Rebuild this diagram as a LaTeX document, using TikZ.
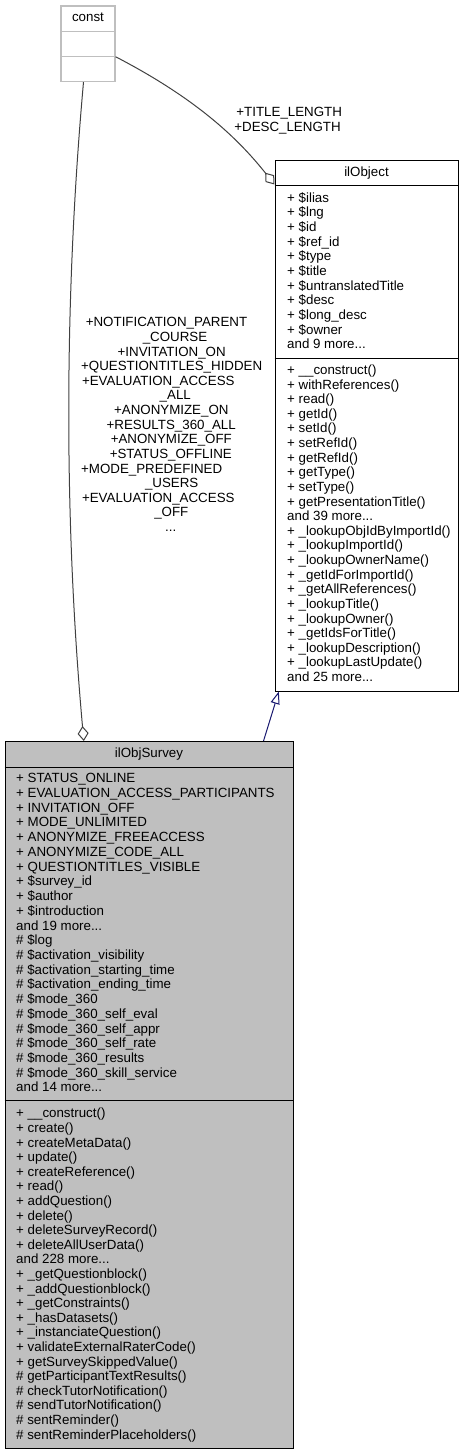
\documentclass[tikz,border=0pt]{standalone}
\usepackage{fontspec}
\setmainfont{Liberation Sans}
\usetikzlibrary{arrows.meta,calc}
\definecolor{edgegray}{HTML}{404040}
\definecolor{navyedge}{HTML}{191970}
\definecolor{boxfill}{HTML}{BFBFBF}
\definecolor{lightborder}{HTML}{BFBFBF}
\newcommand\mytdots{...}
\begin{document}
\begin{tikzpicture}[x=1pt,y=-1pt,
  txt/.style={font=\fontsize{13.33}{14.66}\selectfont, inner sep=0pt, anchor=base west},
  ctxt/.style={font=\fontsize{13.33}{14.66}\selectfont, inner sep=0pt, anchor=base},
  classbox/.style={draw=black, line width=1pt, rectangle, inner sep=0pt},
  sepline/.style={draw=black, line width=1pt},
  agg/.style={draw=edgegray, line width=1pt, -{Diamond[open,length=15pt,width=11pt]}},
  inh/.style={draw=navyedge, line width=1pt, -{Triangle[open,length=12.5pt,width=9pt]}}
]
\useasboundingbox (0,0) rectangle (463,1455);

% ---------- const ----------
\node[draw=lightborder, line width=1.2pt, fill=white, rectangle, inner sep=0pt,
      minimum width=54pt, minimum height=75.5pt] (const) at (88,43.75) {};
\draw[draw=lightborder, line width=1.2pt] (const.west |- 0,31.5) -- (const.east |- 0,31.5);
\draw[draw=lightborder, line width=1.2pt] (const.west |- 0,56.7) -- (const.east |- 0,56.7);
\node[ctxt] (constT) at (88,22) {const};

% ---------- ilObject ----------
\node[classbox, fill=white, minimum width=183pt, minimum height=530pt] (obj) at (366.5,426) {};
\draw[sepline] (obj.west |- 0,185.5) -- (obj.east |- 0,185.5);
\draw[sepline] (obj.west |- 0,358.5) -- (obj.east |- 0,358.5);
\node[ctxt] (objT) at (366.5,176.5) {ilObject};
\foreach \t [count=\i] in {+ \$ilias, + \$lng, + \$id, + \$ref\_id, + \$type, + \$title,
  + \$untranslatedTitle, + \$desc, + \$long\_desc, + \$owner, and 9 more\mytdots}
  \node[txt, name=oa\i] at (287, 202.2+14.66*\i-14.66) {\t};
\foreach \t [count=\i] in {+ \_\_construct(), + withReferences(), + read(), + getId(), + setId(),
  + setRefId(), + getRefId(), + getType(), + setType(), + getPresentationTitle(), and 39 more\mytdots,
  + \_lookupObjIdByImportId(), + \_lookupImportId(), + \_lookupOwnerName(), + \_getIdForImportId(),
  + \_getAllReferences(), + \_lookupTitle(), + \_lookupOwner(), + \_getIdsForTitle(),
  + \_lookupDescription(), + \_lookupLastUpdate(), and 25 more\mytdots}
  \node[txt, name=om\i] at (287, 374.5+14.62*\i-14.62) {\t};

% ---------- ilObjSurvey ----------
\node[classbox, fill=boxfill, minimum width=288pt, minimum height=707pt] (sur) at (149,1095) {};
\draw[sepline] (sur.west |- 0,767.7) -- (sur.east |- 0,767.7);
\draw[sepline] (sur.west |- 0,1100) -- (sur.east |- 0,1100);
\node[ctxt] (surT) at (149,757.5) {ilObjSurvey};
\foreach \t [count=\i] in {+ STATUS\_ONLINE, + EVALUATION\_ACCESS\_PARTICIPANTS, + INVITATION\_OFF,
  + MODE\_UNLIMITED, + ANONYMIZE\_FREEACCESS, + ANONYMIZE\_CODE\_ALL, + QUESTIONTITLES\_VISIBLE,
  + \$survey\_id, + \$author, + \$introduction, and 19 more\mytdots, \# \$log,
  \# \$activation\_visibility, \# \$activation\_starting\_time, \# \$activation\_ending\_time,
  \# \$mode\_360, \# \$mode\_360\_self\_eval, \# \$mode\_360\_self\_appr, \# \$mode\_360\_self\_rate,
  \# \$mode\_360\_results, \# \$mode\_360\_skill\_service, and 14 more\mytdots}
  \node[txt, name=sa\i] at (16, 782.8+14.72*\i-14.72) {\t};
\foreach \t [count=\i] in {+ \_\_construct(), + create(), + createMetaData(), + update(),
  + createReference(), + read(), + addQuestion(), + delete(), + deleteSurveyRecord(),
  + deleteAllUserData(), and 228 more\mytdots, + \_getQuestionblock(), + \_addQuestionblock(),
  + \_getConstraints(), + \_hasDatasets(), + \_instanciateQuestion(), + validateExternalRaterCode(),
  + getSurveySkippedValue(), \# getParticipantTextResults(), \# checkTutorNotification(),
  \# sendTutorNotification(), \# sentReminder(), \# sentReminderPlaceholders()}
  \node[txt, name=sm\i] at (16, 1117.8+14.6*\i-14.6) {\t};

% ---------- connectors ----------
\coordinate (c1s) at ($(const.south)+(-4.5,0)$);
\coordinate (c1e) at ($(sur.north west)+(79.3,0)$);
\draw[agg] (c1s) .. controls (64,300) and (64,520) .. (c1e);

\coordinate (c2s) at ($(const.east)+(0,13)$);
\coordinate (c2e) at ($(obj.north west)+(0,24)$);
\draw[agg] (c2s) .. controls (195.7,98.3) and (237.6,137.9) .. (c2e);

\coordinate (c3s) at ($(sur.north west)+(259,0)$);
\coordinate (c3e) at ($(obj.south west)+(4.3,0)$);
\draw[inh] (c3s) -- (c3e);

% ---------- edge labels ----------
\node[ctxt] (l1) at (289.2,116.8) {+TITLE\_LENGTH};
\node[ctxt] (l2) at (287.5,131.2) {+DESC\_LENGTH};

\foreach \cx/\t [count=\i] in {166.5/+NOTIFICATION\_PARENT, 175/\_COURSE, 171.7/+INVITATION\_ON,
  171.7/+QUESTIONTITLES\_HIDDEN, 158.3/+EVALUATION\_ACCESS, 175.3/\_ALL, 171.3/+ANONYMIZE\_ON,
  171.2/+RESULTS\_360\_ALL, 171.3/+ANONYMIZE\_OFF, 170.8/+STATUS\_OFFLINE, 151.7/+MODE\_PREDEFINED,
  171.7/\_USERS, 158.3/+EVALUATION\_ACCESS, 171.3/\_OFF, 170.8/\mytdots}
  \node[ctxt, name=lb\i] at (\cx, 326.8+14.62*\i-14.62) {\t};
\end{tikzpicture}
\end{document}
